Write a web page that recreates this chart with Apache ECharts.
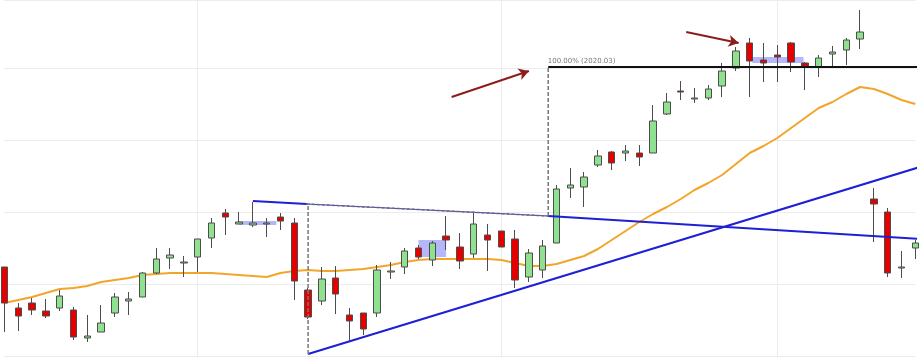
<!DOCTYPE html>
<html>
<head>
<meta charset="utf-8">
<script src="https://cdn.jsdelivr.net/npm/echarts@6/dist/echarts.min.js"></script>
<style>html,body{margin:0;padding:0;background:#fff}#c{width:920px;height:360px}</style>
</head>
<body>
<div id="c"></div>
<script>
// Candle data (price units; no axis labels shown)
const categories = Array.from({length: 67}, (_, i) => 'W' + (i + 1));
const opens  = [89,48,53,45,48,46,18,24,43,55, 59,83,98,93,99,118,143,132,131,132, 139,133,66,55,78,41,43,43,84,89, 108,96,120,109,102,121,125,117,79,86, 113,168,169,191,204,203,203,203,242,265, 257,258,270,288,313,296,301,313,293,289, 302,306,317,157,144,88,108];
const closes = [53,40,46,40,60,19,20,33,59,57, 83,97,101,94,117,133,139,134,133,133, 135,75,39,77,62,35,27,86,85,105, 99,113,116,95,132,116,109,76,103,110, 167,171,179,200,193,205,199,235,254,264, 258,267,285,305,295,293,299,294,290,298, 304,316,324,152,83,89,113];
const lows   = [24,25,41,38,45,16,14,24,39,41, 59,82,87,79,84,108,121,132,129,119, 126,56,37,51,42,15,21,39,77,82, 97,90,106,87,98,85,109,68,74,78, 113,158,149,189,186,195,190,203,241,256, 253,256,259,285,259,274,274,284,266,279, 289,291,307,114,79,78,97];
const highs  = [89,53,58,57,66,49,41,51,63,64, 84,108,108,100,117,138,147,144,154,138, 143,138,68,89,90,48,43,91,94,108, 111,115,140,123,143,132,125,126,107,116, 171,188,184,206,205,211,211,251,263,275, 268,271,293,309,318,313,311,314,294,301, 310,318,346,168,148,105,116];
const movingAvg = [53,56,59,63,67,68,70,74,76,78, 81,82,83,83,83,83,82,81,80,79, 83,85,86,85,85,86,87,89,91,94, 96,97,97,97,97,97,96,93,90,90, 92,96,100,107,116,125,134,142,149,157, 166,173,181,192,203,210,218,228,238,248, 254,262,269,267,262,256,252];
const monthStarts = [14, 36, 56];

// Annotations, in [bar index, price]
const trendTop1 = [[18, 155], [21.9, 152]];
const trendTopDashed = [[21.9, 152], [39.4, 140]];
const trendTop2 = [[39.4, 140], [66.34, 117]];
const trendBottom = [[22, 2], [66.34, 189]];
const dropLine1 = [[22, 2], [22, 152]];
const dropLine2 = [[39.4, 140], [39.4, 289]];
const levelLine = [[39.4, 289], [66.34, 289]];
const levelLabel = '100.00% (2020.03)';
const zones = [[[17.0, 135], [19.7, 131]], [[30.0, 116], [32.0, 99]], [[54.2, 299], [57.9, 293]]];
const arrows = [[[32.4, 259], [38.0, 285]], [[49.4, 324], [53.2, 313]]];

const candleData = opens.map((o, i) => [o, closes[i], lows[i], highs[i]]);

function lineSeries(data, color, width, type) {
  return {
    type: 'line', xAxisIndex: 1, yAxisIndex: 0, data: data, symbol: 'none',
    clip: false, silent: true, animation: false,
    lineStyle: {color: color, width: width, type: type || 'solid'}, z: 5
  };
}

const chart = echarts.init(document.getElementById('c'), null, {renderer: 'canvas'});
chart.setOption({
  animation: false,
  backgroundColor: '#ffffff',
  grid: {left: 4.5, right: 4.7, top: 0, bottom: 4, containLabel: false},
  xAxis: [{
    type: 'category', data: categories, boundaryGap: false,
    axisLine: {show: false}, axisTick: {show: false}, axisLabel: {show: false},
    splitLine: {show: true, interval: (idx) => monthStarts.includes(idx), lineStyle: {color: '#ececec', width: 1}}
  }, {
    type: 'value', min: 0, max: 66, show: false
  }],
  yAxis: [{
    type: 'value', min: 0, max: 356, interval: 72,
    axisLine: {show: false}, axisTick: {show: false}, axisLabel: {show: false},
    splitLine: {show: true, lineStyle: {color: '#ececec', width: 1}}
  }],
  series: [
    {
      type: 'line', data: movingAvg, symbol: 'none', smooth: false, clip: false,
      lineStyle: {color: '#f2a52a', width: 2}, z: 2, silent: true
    },
    lineSeries(trendTop1, '#1f1fd6', 2),
    lineSeries(trendTopDashed, '#3a3ab8', 1),
    lineSeries(trendTopDashed, '#6a6a80', 1.5, [3, 2]),
    lineSeries(trendTop2, '#1f1fd6', 2),
    lineSeries(trendBottom, '#1f1fd6', 2),
    lineSeries(dropLine1, '#777777', 1.5, [4, 2]),
    lineSeries(dropLine2, '#777777', 1.5, [4, 2]),
    lineSeries(levelLine, '#111111', 2),
    {
      type: 'scatter', xAxisIndex: 1, yAxisIndex: 0, data: [levelLine[0]], symbolSize: 1,
      itemStyle: {color: 'rgba(0,0,0,0)'}, silent: true, clip: false, z: 6,
      label: {show: true, formatter: levelLabel, position: [0, -9], fontSize: 7,
              color: '#555', fontFamily: 'DejaVu Sans'}
    },
    {
      type: 'line', xAxisIndex: 1, yAxisIndex: 0, data: [], silent: true,
      markArea: {
        silent: true,
        itemStyle: {color: 'rgba(110,110,245,0.5)'},
        data: zones.map(z => [{coord: z[0]}, {coord: z[1]}])
      },
      markLine: {
        silent: true, symbol: ['none', 'arrow'], symbolSize: [9, 10],
        label: {show: false},
        lineStyle: {color: '#8c1d1d', width: 2, type: 'solid'},
        data: arrows.map(a => [{coord: a[0]}, {coord: a[1]}])
      }
    },
    {
      type: 'candlestick', data: candleData, barWidth: 7, clip: false, z: 4,
      itemStyle: {
        color: '#8fe08f', color0: '#e50000',
        borderColor: '#4d4d4d', borderColor0: '#4d4d4d', borderWidth: 1
      }
    }
  ]
});
</script>
</body>
</html>
